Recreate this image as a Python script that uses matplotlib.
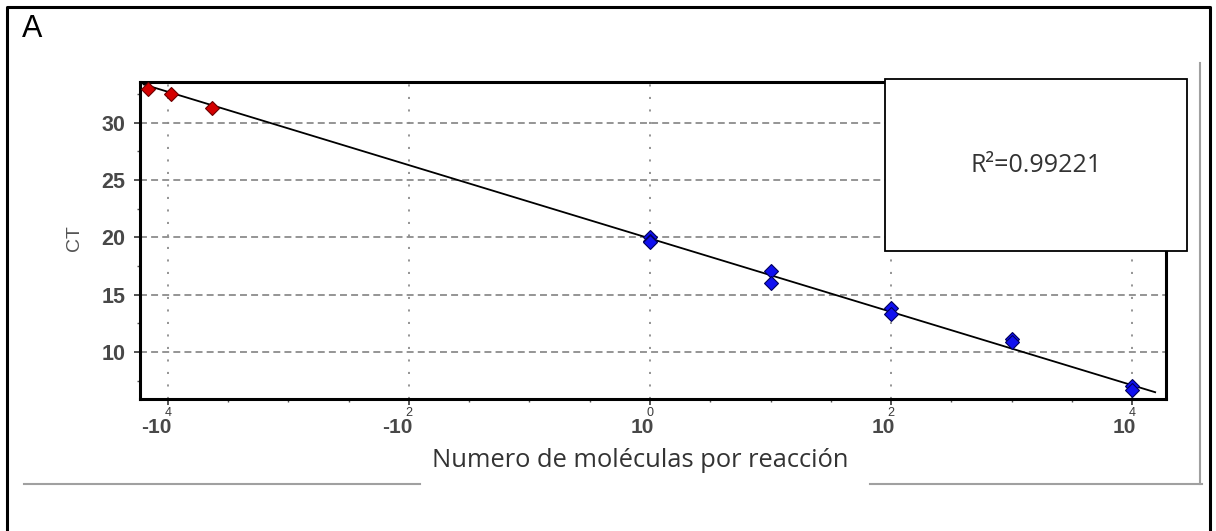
import matplotlib
matplotlib.use("Agg")
import matplotlib.pyplot as plt
import numpy as np
from matplotlib.lines import Line2D
from matplotlib.patches import Rectangle

plt.rcParams["lines.scale_dashes"] = False

# log10(molecules per reaction) and CT
red_x = [-4.16, -3.97, -3.63]
red_ct = [32.9, 32.5, 31.3]
blue_x = [0, 0, 0, 1, 1, 2, 2, 3, 3, 4, 4]
blue_ct = [20.0, 19.7, 19.6, 17.1, 16.0, 13.8, 13.3, 11.1, 10.9, 7.0, 6.7]

fit_slope = -3.20
fit_intercept = 19.9
fit_range = [-4.2, 4.19]

x_ticks = [-4, -2, 0, 2, 4]
x_tick_base = ["-10", "-10", "10", "10", "10"]
x_tick_exp = ["4", "2", "0", "2", "4"]
y_ticks = [10, 15, 20, 25, 30]

r2_text = "R²=0.99221"
panel_label = "A"
x_label = "Numero de moléculas por reacción"
y_label = "CT"

W, H = 1216, 531
fig = plt.figure(figsize=(W / 100, H / 100), dpi=100)


def fx(px):
    return px / W


def fy(py):
    return 1 - py / H


ax = fig.add_axes([fx(140), fy(399), fx(1166) - fx(140), fy(82) - fy(399)])
ax.set_xlim(-4.23, 4.28)
ax.set_ylim(5.9, 33.55)

for y in y_ticks:
    ax.axhline(y, color="#8c8c8c", lw=1.3, dashes=(5, 3), zorder=1)
for x in x_ticks:
    ax.axvline(x, color="#8c8c8c", lw=1.3, dashes=(1.5, 7.5), zorder=1)

xs = np.array(fit_range)
ax.plot(xs, fit_intercept + fit_slope * xs, color="black", lw=1.3, zorder=2)

ax.plot(red_x, red_ct, "D", ms=7.5, mfc="#d40000", mec="#6a0000", mew=0.8, zorder=3)
ax.plot(blue_x, blue_ct, "D", ms=7.5, mfc="#1010f0", mec="#00005a", mew=0.8, zorder=3)

for side in ["left", "bottom", "top", "right"]:
    ax.spines[side].set_linewidth(2.2)

ax.set_xticks(x_ticks)
ax.set_xticks(np.arange(-4, 4.01, 0.5), minor=True)
ax.set_xticklabels([])
ax.set_yticks(y_ticks)
ax.set_yticks(np.arange(7.5, 33, 2.5), minor=True)
ax.tick_params(axis="both", which="major", direction="out", length=4.5, width=1.2, color="#333333")
ax.tick_params(axis="both", which="minor", direction="out", length=2.2, width=1.0, color="#555555")
ax.tick_params(axis="y", labelsize=15.5, labelcolor="#484848", pad=6)
for lab in ax.get_yticklabels():
    lab.set_fontfamily("Liberation Sans")
    lab.set_fontweight("bold")

# exponent labels drawn on top of the base, as the exporting program left them
for t, base, exp in zip(x_ticks, x_tick_base, x_tick_exp):
    ax.annotate(base, xy=(t, 0), xycoords=("data", "axes fraction"),
                xytext=(4, -19), textcoords="offset pixels", ha="right", va="top",
                fontsize=15, fontweight="bold", color="#484848", family="Liberation Sans")
    ax.annotate(exp, xy=(t, 0), xycoords=("data", "axes fraction"),
                xytext=(0, -14), textcoords="offset pixels", ha="center", va="center",
                fontsize=9, color="#3a3a3a", family="Liberation Sans")

fig.text(fx(75), fy(238), y_label, rotation=90, ha="center", va="center",
         fontsize=14, color="#555555", family="Liberation Sans")
fig.text(fx(640), fy(467), x_label, ha="center", va="baseline",
         fontsize=18.4, color="#333333", family="Open Sans")
fig.text(fx(22), fy(37), panel_label, ha="left", va="baseline",
         fontsize=22, color="black", family="Liberation Sans")

# R^2 box sits on top of the axes corner
box = Rectangle((fx(885), fy(251)), fx(1187) - fx(885), fy(79) - fy(251),
                transform=fig.transFigure, facecolor="white", edgecolor="black",
                lw=1.3, zorder=10)
fig.add_artist(box)
fig.text(fx(1036), fy(172), r2_text, ha="center", va="baseline", fontsize=18,
         color="#333333", family="Open Sans", zorder=11)

# page decoration: outer black frame and gray screenshot edges
gray = "#a0a0a0"
for seg in [((24, 420), (484, 484)), ((870, 1202), (484, 484)), ((1200, 1200), (63, 484))]:
    fig.add_artist(Line2D([fx(seg[0][0]), fx(seg[0][1])], [fy(seg[1][0]), fy(seg[1][1])],
                          transform=fig.transFigure, color=gray, lw=1.5))
fig.add_artist(Line2D([fx(7), fx(7), fx(1210), fx(1210)], [fy(545), fy(7), fy(7), fy(545)],
                      transform=fig.transFigure, color="black", lw=2.2))

fig.savefig("out.png", dpi=100)
